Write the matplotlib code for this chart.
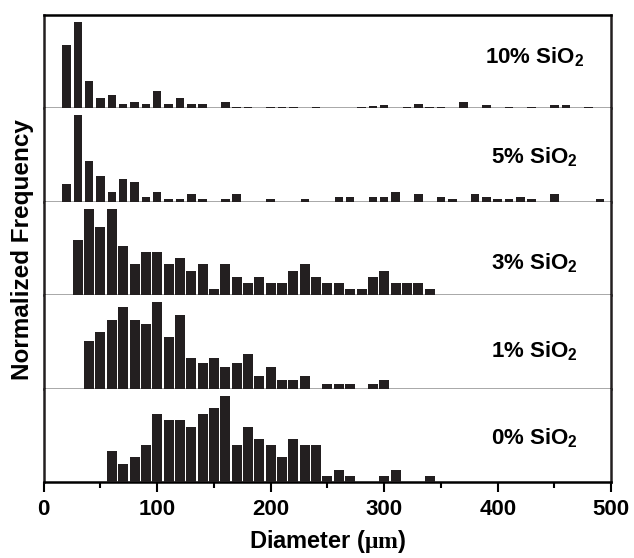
import matplotlib
matplotlib.use("Agg")
import matplotlib.pyplot as plt
from matplotlib.ticker import MultipleLocator

plt.rcParams['font.family'] = ['Liberation Sans', 'DejaVu Sans']
plt.rcParams['font.weight'] = 'bold'
plt.rcParams['mathtext.fontset'] = 'custom'
plt.rcParams['mathtext.rm'] = 'Liberation Serif'
plt.rcParams['mathtext.bf'] = 'Liberation Sans:bold'

# histogram data (bin centres in um, relative heights)
d10 = [20, 30, 40, 50, 60, 70, 80, 90, 100, 110, 120, 130, 140, 160, 170, 180,
       200, 210, 220, 240, 280, 290, 300, 320, 330, 340, 350, 370, 390, 410,
       430, 450, 460, 480]
h10 = [63, 86, 27, 10, 13, 4, 6, 4, 17, 4, 10, 4, 4, 6, 1, 1,
       1, 1, 1, 1, 1, 2, 3, 1, 4, 1, 1, 6, 3, 1,
       1, 3, 3, 1]

d5 = [20, 30, 40, 50, 60, 70, 80, 90, 100, 110, 120, 130, 140, 160, 170, 200,
      230, 260, 270, 290, 300, 310, 330, 350, 360, 380, 390, 400, 410, 420,
      430, 450, 490]
h5 = [7, 34, 16, 10, 4, 9, 8, 2, 4, 1, 1, 3, 1, 1, 3, 1,
      1, 2, 2, 2, 2, 4, 3, 2, 1, 3, 2, 1, 1, 2,
      1, 3, 1]

d3 = [30, 40, 50, 60, 70, 80, 90, 100, 110, 120, 130, 140, 150, 160, 170, 180,
      190, 200, 210, 220, 230, 240, 250, 260, 270, 280, 290, 300, 310, 320,
      330, 340]
h3 = [9, 14, 11, 14, 8, 5, 7, 7, 5, 6, 4, 5, 1, 5, 3, 2,
      3, 2, 2, 4, 5, 3, 2, 2, 1, 1, 3, 4, 2, 2,
      2, 1]

d1 = [40, 50, 60, 70, 80, 90, 100, 110, 120, 130, 140, 150, 160, 170, 180, 190,
      200, 210, 220, 230, 250, 260, 270, 290, 300]
h1 = [11, 13, 16, 19, 16, 15, 20, 12, 17, 7, 6, 7, 5, 6, 8, 3,
      5, 2, 2, 3, 1, 1, 1, 1, 2]

d0 = [60, 70, 80, 90, 100, 110, 120, 130, 140, 150, 160, 170, 180, 190, 200, 210,
      220, 230, 240, 250, 260, 270, 300, 310, 340]
h0 = [5, 3, 4, 6, 11, 10, 10, 9, 11, 12, 14, 6, 9, 7, 6, 4,
      7, 6, 6, 1, 2, 1, 1, 2, 1]

labels = ['10% SiO$_\\mathbf{2}$', '5% SiO$_\\mathbf{2}$', '3% SiO$_\\mathbf{2}$',
          '1% SiO$_\\mathbf{2}$', '0% SiO$_\\mathbf{2}$']
series = [(d10, h10), (d5, h5), (d3, h3), (d1, h1), (d0, h0)]
widths = [7.5, 7.5, 8.8, 8.8, 8.8]
label_y = [0.55, 0.48, 0.34, 0.40, 0.47]

fig, axes = plt.subplots(5, 1, sharex=True, figsize=(6.34, 5.58), dpi=100)
fig.subplots_adjust(left=0.069, right=0.964, top=0.973, bottom=0.136, hspace=0)

for i, ax in enumerate(axes):
    d, h = series[i]
    m = max(h)
    ax.bar(d, [v / m for v in h], width=widths[i], color='#231f20', zorder=3)
    ax.set_ylim(0, 1.08)
    ax.set_xlim(0, 500)
    ax.set_yticks([])
    for s in ['left', 'right']:
        ax.spines[s].set_linewidth(1.8)
        ax.spines[s].set_color('#231f20')
    ax.spines['top'].set_visible(i == 0)
    ax.spines['top'].set_linewidth(1.8)
    if i < 4:
        ax.spines['bottom'].set_visible(False)
        ax.axhline(0, color='#9a9a9a', lw=1.2, zorder=2)
        ax.tick_params(axis='x', which='both', length=0)
    else:
        ax.spines['bottom'].set_linewidth(1.8)
    ax.text(0.865, label_y[i], labels[i], transform=ax.transAxes, ha='center',
            va='center', fontsize=16, fontweight='bold')

ax = axes[-1]
ax.xaxis.set_major_locator(MultipleLocator(100))
ax.xaxis.set_minor_locator(MultipleLocator(50))
ax.tick_params(axis='x', which='major', direction='out', length=7, width=1.5,
               labelsize=16, pad=5)
ax.tick_params(axis='x', which='minor', direction='out', length=4, width=1.5)
for t in ax.get_xticklabels():
    t.set_fontweight('bold')
ax.set_xlabel('Diameter ($\\mathrm{\\mu m}$)', fontsize=17, fontweight='bold',
              labelpad=6)

fig.text(0.036, 0.552, 'Normalized Frequency', rotation=90, ha='center',
         va='center', fontsize=17.5, fontweight='bold')

fig.savefig('out.png', dpi=100)
